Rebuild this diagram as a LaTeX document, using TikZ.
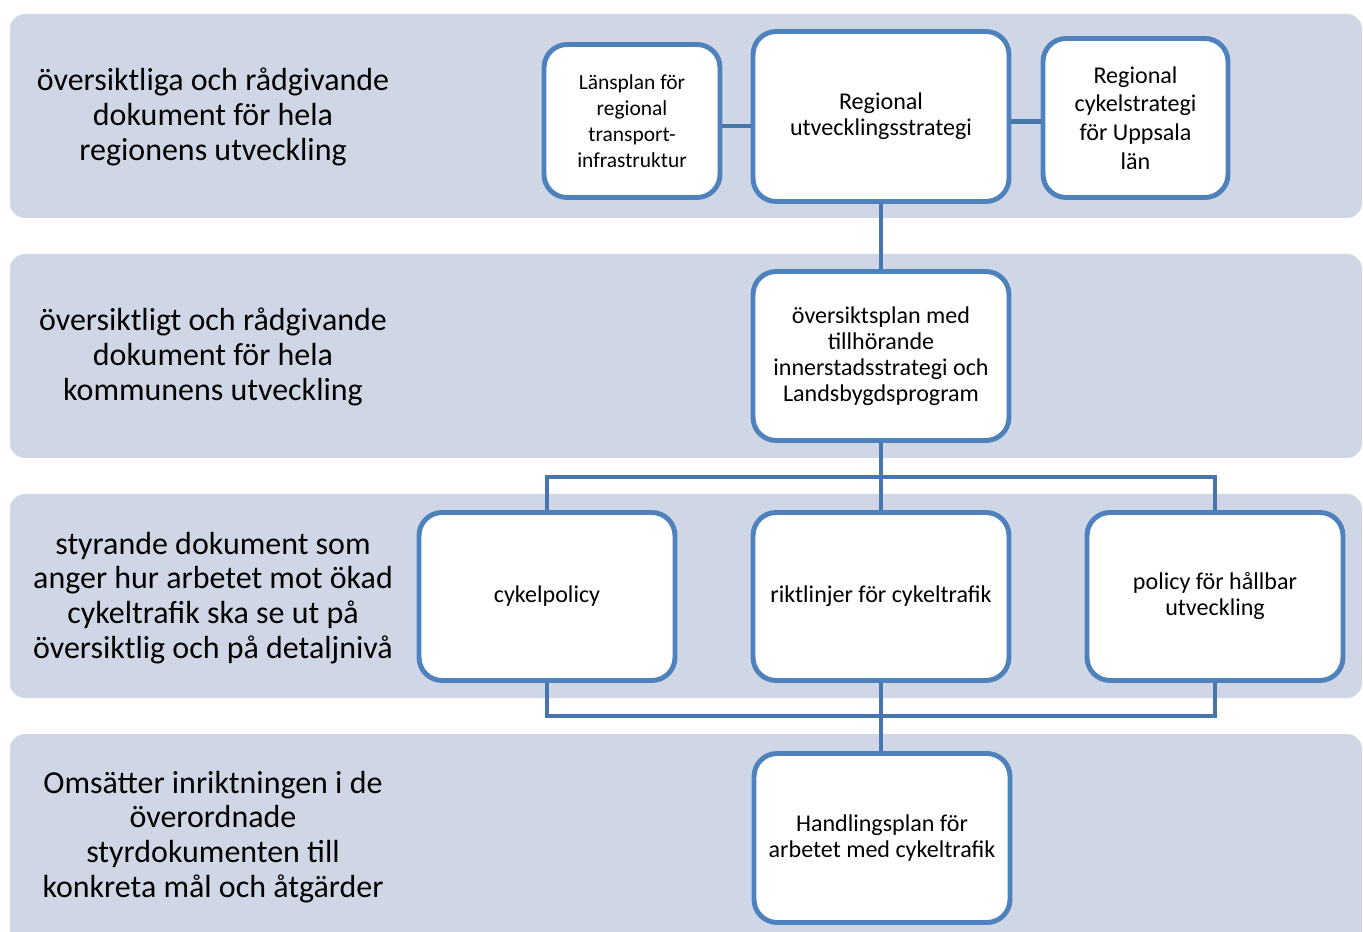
\documentclass[tikz,border=0pt]{standalone}
\usepackage{fontspec}
\setmainfont{Carlito}
\definecolor{bandfill}{RGB}{207,215,231}
\definecolor{boxline}{RGB}{79,129,189}
\definecolor{connline}{RGB}{72,117,172}
\tikzset{
  band/.style={fill=bandfill, rounded corners=0.3cm},
  bandtext/.style={align=center, font=\fontsize{18.2}{19.8}\selectfont, text=black},
  box/.style={draw=boxline, line width=2.8pt, fill=white, rounded corners=0.46cm, align=center,
    font=\fontsize{13.7}{14.8}\selectfont, inner sep=0pt},
  smallbox/.style={box, font=\fontsize{12.2}{14.8}\selectfont},
  widebox/.style={box, font=\fontsize{13.7}{16.4}\selectfont},
  conn/.style={draw=connline, line width=2.8pt},
}
\begin{document}
\begin{tikzpicture}[x=0.02cm,y=-0.02cm]
\useasboundingbox (0,0) rectangle (1363,932);
\clip (0,0) rectangle (1363,932);
\fill[white] (0,0) rectangle (1363,932);
% bands
\path[band] (10,14) rectangle (1362,218);
\path[band] (10,254) rectangle (1362,458);
\path[band] (10,494) rectangle (1362,698);
\path[band] (10,734) rectangle (1362,960);
% band texts
\node[bandtext] (t1) at (213,117) {översiktliga och rådgivande\\dokument för hela\\regionens utveckling};
\node[bandtext] (t2) at (213,357) {översiktligt och rådgivande\\dokument för hela\\kommunens utveckling};
\node[bandtext] (t3) at (213,598) {styrande dokument som\\anger hur arbetet mot ökad\\cykeltrafik ska se ut på\\översiktlig och på detaljnivå};
\node[bandtext] (t4) at (213,837) {Omsätter inriktningen i de\\överordnade\\styrdokumenten till\\konkreta mål och åtgärder};
% bus coordinates
\coordinate (bus1) at (881,477);
\coordinate (bus2) at (881,716);
% boxes
\node[smallbox, minimum width=3.52cm, minimum height=3.06cm] (lp) at (632,121) {Länsplan för\\regional\\transport-\\infrastruktur};
\node[box, minimum width=5.12cm, minimum height=3.40cm] (rus) at (881,116.5) {Regional\\utvecklingsstrategi};
\node[widebox, minimum width=3.70cm, minimum height=3.18cm] (rcs) at (1135.5,118) {Regional\\cykelstrategi\\för Uppsala\\län};
\node[box, minimum width=5.12cm, minimum height=3.38cm] (ovp) at (881,356) {översiktsplan med\\tillhörande\\innerstadsstrategi och\\Landsbygdsprogram};
\node[box, minimum width=5.12cm, minimum height=3.36cm] (cp) at (547,596.5) {cykelpolicy};
\node[box, minimum width=5.12cm, minimum height=3.36cm] (rik) at (881,596.5) {riktlinjer för cykeltrafik};
\node[box, minimum width=5.12cm, minimum height=3.36cm] (pol) at (1215,596.5) {policy för hållbar\\utveckling};
\node[box, minimum width=5.12cm, minimum height=3.38cm] (hp) at (882,838) {Handlingsplan för\\arbetet med cykeltrafik};
% connectors
\draw[conn] ([yshift=-0.1cm]lp.east) -- ([yshift=-0.1cm]lp.east -| rus.west);
\draw[conn] ([yshift=-0.07cm]rcs.west -| rus.east) -- ([yshift=-0.07cm]rcs.west);
\draw[conn] (rus.south) -- (ovp.north);
\draw[conn] (ovp.south) -- (bus1);
\draw[conn] (cp.north) |- (bus1);
\draw[conn] (pol.north) |- (bus1);
\draw[conn] (bus1) -- (rik.north);
\draw[conn] (cp.south) |- (bus2);
\draw[conn] (pol.south) |- (bus2);
\draw[conn] (rik.south) -- (bus2);
\draw[conn] (bus2) -- (bus2 |- hp.north);
\end{tikzpicture}
\end{document}
